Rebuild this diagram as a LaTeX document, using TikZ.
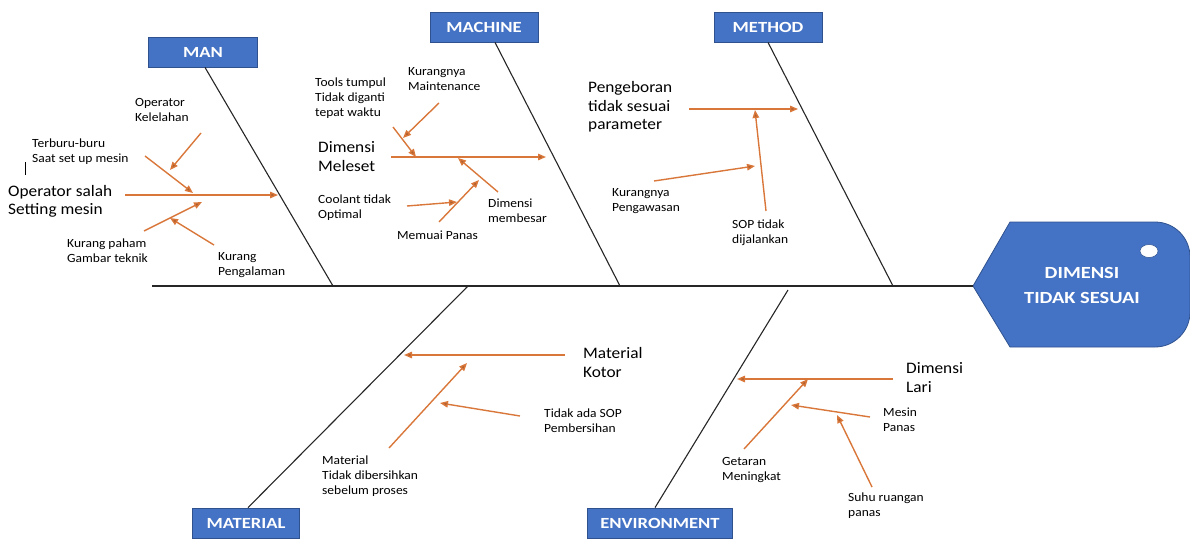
\documentclass[tikz,border=0pt]{standalone}
\usepackage{fontspec}
\setmainfont[FakeStretch=1.08]{Carlito}
\newfontfamily\labelfont[FakeStretch=1.2]{Carlito}
\usetikzlibrary{arrows.meta}
\definecolor{box blue}{HTML}{4472C4}
\definecolor{box edge}{HTML}{2F528F}
\definecolor{cause orange}{HTML}{D9773A}

\begin{document}
\begin{tikzpicture}[x=1pt, y=-1pt,
    catbox/.style={draw=box edge, fill=box blue, line width=0.8pt, text=white, font=\labelfont\fontsize{15.5}{18}\selectfont\bfseries, minimum height=30pt, inner sep=0pt},
    small/.style={anchor=west, align=left, inner sep=0pt, font=\fontsize{12.5}{15}\selectfont},
    big/.style={anchor=west, align=left, inner sep=0pt, font=\fontsize{16}{18.5}\selectfont},
    cause/.style={cause orange, line width=1.4pt, -{Triangle[length=8pt,width=6.5pt,fill=cause orange!80!black]}},
    bone/.style={black!85, line width=1.1pt}]
    \useasboundingbox (0,0) rectangle (1190,538);

    \draw[draw=box edge, fill=box blue, line width=0.8pt] (973,286) -- (1010,222) -- (1155,222)
        arc[start angle=90, end angle=0, radius=35pt] -- (1190,312)
        arc[start angle=0, end angle=-90, radius=35pt] -- (1010,347) -- cycle;
    \draw[draw=box edge, fill=white, line width=0.5pt] (1149,251) ellipse[x radius=9pt, y radius=6.5pt];
    \node[text=white, align=center, font=\labelfont\fontsize{17}{25}\selectfont\bfseries] (head) at (1082,285) {DIMENSI\\TIDAK SESUAI};

    \coordinate (tail) at (152,286);
    \coordinate (mouth) at (973,286);
    \draw[bone] (tail) -- (mouth);

    \node[catbox, minimum width=109pt] (man) at (203,52) {MAN};
    \node[catbox, minimum width=108pt] (machine) at (484,27) {MACHINE};
    \node[catbox, minimum width=108pt] (method) at (768,27) {METHOD};
    \node[catbox, minimum width=107pt] (material) at (246,523) {MATERIAL};
    \node[catbox, minimum width=145pt] (env) at (660,523) {ENVIRONMENT};

    \foreach \n/\x/\y in {manB/333/286, machB/620/286, methB/893/286, matB/468/286, envB/788/290}
        \coordinate (\n) at (\x,\y);
    \draw[bone] ([xshift=2pt]man.south) -- (manB);
    \draw[bone] ([xshift=11pt]machine.south) -- (machB);
    \draw[bone] (method.south) -- (methB);
    \draw[bone] ([xshift=2pt]material.north) -- (matB);
    \draw[bone] ([xshift=-5pt]env.north) -- (envB);

    % MAN
    \node[big] (opsalah) at (8,201.5) {Operator salah\\Setting mesin};
    \node[small] (terburu) at (32,152) {Terburu-buru\\Saat set up mesin};
    \node[small] (kelelahan) at (135,110) {Operator\\Kelelahan};
    \node[small] (paham) at (67,251) {Kurang paham\\Gambar teknik};
    \node[small] (pengalaman) at (218,265) {Kurang\\Pengalaman};
    \draw[black, line width=1pt] (25,162) -- (25,175);
    % MACHINE
    \node[big] (meleset) at (318,156.5) {Dimensi\\Meleset};
    \node[small] (tools) at (315,98) {Tools tumpul\\Tidak diganti\\tepat waktu};
    \node[small] (maint) at (408,79.5) {Kurangnya\\Maintenance};
    \node[small] (coolant) at (318,207.5) {Coolant tidak\\Optimal};
    \node[small] (memuai) at (397,235) {Memuai Panas};
    \node[small] (membesar) at (488,211) {Dimensi\\membesar};
    % METHOD
    \node[big] (pengeboran) at (588,107) {Pengeboran\\tidak sesuai\\parameter};
    \node[small] (pengawasan) at (612,201) {Kurangnya\\Pengawasan};
    \node[small] (sopjalan) at (732,232.5) {SOP tidak\\dijalankan};
    % MATERIAL
    \node[big] (kotor) at (583,362.5) {Material\\Kotor};
    \node[small] (sopbersih) at (544,421) {Tidak ada SOP\\Pembersihan};
    \node[small] (tidakbersih) at (322,476) {Material\\Tidak dibersihkan\\sebelum proses};
    % ENVIRONMENT
    \node[big] (lari) at (906,377.5) {Dimensi\\Lari};
    \node[small] (mesinpanas) at (883,419.5) {Mesin\\Panas};
    \node[small] (getaran) at (722,470.5) {Getaran\\Meningkat};
    \node[small] (suhu) at (848,506) {Suhu ruangan\\panas};

    \foreach \n/\x/\y in {a1s/125/195, a1e/278/195, a2s/145/156, a2e/193/193, a3s/201/133, a3e/170/170,
        a4s/144/231, a4e/202/202, a5s/214/245, a5e/170/218,
        b1s/391/157, b1e/546/157, b2s/393/127, b2e/416/157, b3s/439/103, b3e/403/138,
        b4s/407/206, b4e/457/202, b5s/439/222, b5e/479/180, b6s/498/192, b6e/458/158,
        c1s/689/109, c1e/798/109, c2s/654/181, c2e/755/166, c3s/766/211, c3e/755/110,
        d1s/565/355, d1e/404/355, d2s/520/416, d2e/440/403, d3s/389/448, d3e/467/363,
        e1s/893/379, e1e/737/379, e2s/870/417, e2e/791/405, e3s/744/449, e3e/808/379,
        e4s/872/487, e4e/837/415}
        \coordinate (\n) at (\x,\y);
    \foreach \a in {a1,a2,a3,a4,a5,b1,b2,b3,b4,b5,b6,c1,c2,c3,d1,d2,d3,e1,e2,e3,e4}
        \draw[cause] (\a s) -- (\a e);
\end{tikzpicture}
\end{document}
